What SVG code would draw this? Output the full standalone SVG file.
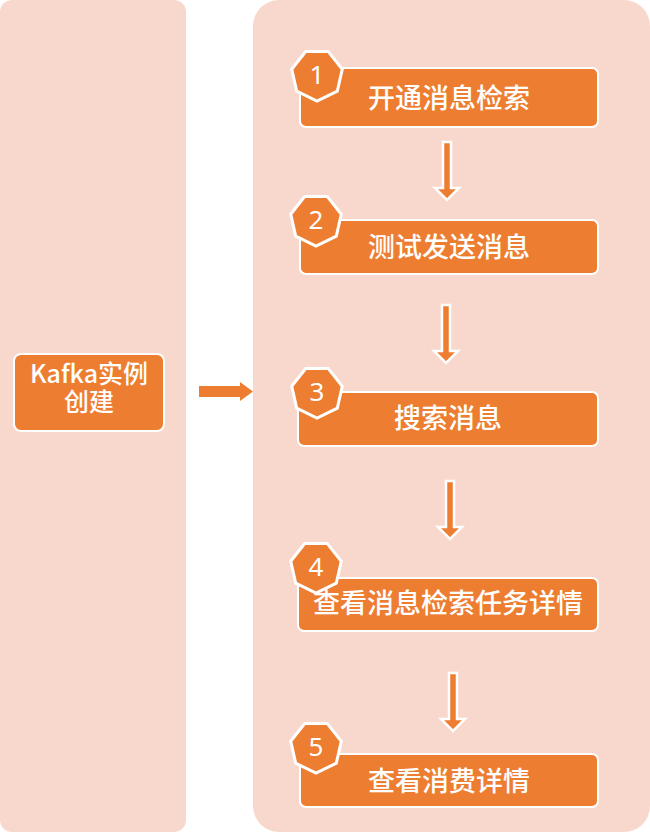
<svg xmlns="http://www.w3.org/2000/svg" width="650" height="832" viewBox="0 0 650 832">
<style>
.panel{fill:#F8D8CC}
.box{fill:#ED7D31;stroke:#FFFFFF;stroke-width:2}
.badge{fill:#ED7D31;stroke:#FFFFFF;stroke-width:3;stroke-linejoin:miter}
.t{font-family:"Noto Sans CJK SC","Noto Sans",sans-serif;fill:#FFFFFF;text-anchor:middle;dominant-baseline:central;font-size:27px;font-weight:500}
.lt{font-family:"Noto Sans CJK SC","Noto Sans",sans-serif;fill:#FFFFFF;text-anchor:middle;font-size:25px;font-weight:500}
.n{font-family:"Noto Sans","Liberation Sans",sans-serif;fill:#FFFFFF;text-anchor:middle;dominant-baseline:central;font-size:26px}
.arr{fill:#ED7D31;stroke:#FFFFFF;stroke-width:2.5}
</style>
<defs>
<polygon id="hept" points="11.3,-23.4 25.3,-5.8 20.3,16.2 0,26 -20.3,16.2 -25.3,-5.8 -11.3,-23.4"/>
<polygon id="down" points="-4,0 4,0 4,46 12,46 0,58 -12,46 -4,46"/>
</defs>
<rect class="panel" x="0" y="0" width="186" height="832" rx="12"/>
<rect class="panel" x="253" y="0" width="397" height="832" rx="26"/>

<g id="left">
<rect class="box" x="14" y="354" width="150" height="77" rx="7"/>
<text class="lt" x="89" y="383"><tspan x="89" y="383">Kafka实例</tspan><tspan x="89" y="411">创建</tspan></text>
</g>

<g id="connectors">
<polygon fill="#ED7D31" points="199,386 240,386 240,382 253,391.5 240,401 240,397 199,397"/>
<use href="#down" class="arr" transform="translate(447,142)"/>
<use href="#down" class="arr" transform="translate(446,305)"/>
<use href="#down" class="arr" transform="translate(450,481)"/>
<use href="#down" class="arr" transform="translate(453,673)"/>
</g>

<g id="step1">
<rect class="box" x="300" y="68" width="298" height="59" rx="6"/>
<text class="t" x="449" y="96">开通消息检索</text>
<use href="#hept" class="badge" transform="translate(317,75)"/>
<text class="n" x="317" y="74">1</text>
</g>
<g id="step2">
<rect class="box" x="300" y="220" width="298" height="54" rx="6"/>
<text class="t" x="449" y="245">测试发送消息</text>
<use href="#hept" class="badge" transform="translate(316,220)"/>
<text class="n" x="316" y="219">2</text>
</g>
<g id="step3">
<rect class="box" x="298" y="392" width="300" height="54" rx="6"/>
<text class="t" x="448" y="416">搜索消息</text>
<use href="#hept" class="badge" transform="translate(317,392)"/>
<text class="n" x="317" y="391">3</text>
</g>
<g id="step4">
<rect class="box" x="298" y="578" width="300" height="53" rx="6"/>
<text class="t" x="448" y="601" font-size="28">查看消息检索任务详情</text>
<use href="#hept" class="badge" transform="translate(316,567)"/>
<text class="n" x="316" y="566">4</text>
</g>
<g id="step5">
<rect class="box" x="300" y="754" width="298" height="53" rx="6"/>
<text class="t" x="449" y="779">查看消费详情</text>
<use href="#hept" class="badge" transform="translate(316,747)"/>
<text class="n" x="316" y="746">5</text>
</g>
</svg>
